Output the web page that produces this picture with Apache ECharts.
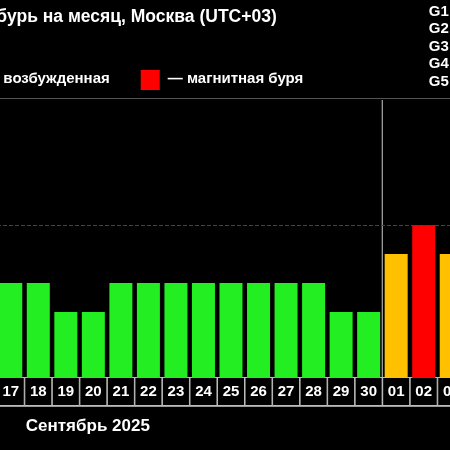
<!DOCTYPE html>
<html><head><meta charset="utf-8">
<script src="https://cdn.jsdelivr.net/npm/echarts@6/dist/echarts.min.js"></script>
<style>html,body{margin:0;background:#000;overflow:hidden;width:450px;height:450px}#c{position:absolute;left:-2.75px;top:0;width:467.5px;height:450px}</style></head>
<body><div id="c"></div>
<script>
const days = ['17','18','19','20','21','22','23','24','25','26','27','28','29','30','01','02','03'];
const levels = [3,3,2,2,3,3,3,3,3,3,3,3,2,2,4,5,4];
const levelColors = {2:'#22ee22',3:'#22ee22',4:'#ffc000',5:'#ff0000'};
const gLabels = ['G1','G2','G3','G4','G5'];
const chart = echarts.init(document.getElementById('c'));
const F = 'Liberation Sans, Arial, sans-serif';
const dx = 2.75;
const base = 0.276;
chart.setOption({
  backgroundColor:'#000',
  animation:false,
  grid:{left:0,right:0,top:98,bottom:72,containLabel:false,outerBoundsMode:'none'},
  xAxis:{type:'category',data:days,
    axisLine:{show:false},axisTick:{show:false},
    axisLabel:{interval:0,margin:0,color:'#fff',fontFamily:F,fontWeight:'bold',fontSize:15,
      width:26,height:27,lineHeight:27,align:'center',verticalAlign:'top',
      borderColor:'#bbb',borderWidth:1,backgroundColor:'#000'}},
  yAxis:{type:'value',min:0,max:9.655,axisLabel:{show:false},axisLine:{show:false},axisTick:{show:false},
    splitLine:{show:false}},
  series:[
   {type:'bar',stack:'s',barWidth:23,silent:true,
    data:levels.map(v=>({value:base,itemStyle:{color:levelColors[v]}}))},
   {type:'bar',stack:'s',barWidth:23,
    data:levels.map(v=>({value:v,itemStyle:{color:levelColors[v]}})),
    markLine:{silent:true,symbol:'none',label:{show:false},
      data:[{yAxis:5+base,lineStyle:{color:'#444',type:'dashed',width:1}}]}
  }],
  graphic:[
    {type:'rect',shape:{x:0,y:98,width:470,height:1},style:{fill:'#555'}},
    {type:'rect',shape:{x:382+dx,y:100,width:1,height:306},style:{fill:'#ccc'}},
    {type:'rect',shape:{x:0,y:406,width:470,height:1},style:{fill:'#999'}},
    {type:'text',x:277+dx,y:8,style:{text:'Прогноз магнитных бурь на месяц, Москва (UTC+03)',fill:'#fff',font:'bold 17.5px '+F,textAlign:'right'}},
    {type:'text',x:110+dx,y:71,style:{text:'— возбужденная',fill:'#fff',font:'bold 15px '+F,textAlign:'right'}},
    {type:'rect',shape:{x:141+dx,y:70,width:19,height:20},style:{fill:'#ff0000'}},
    {type:'text',x:168+dx,y:71,style:{text:'— магнитная буря',fill:'#fff',font:'bold 15px '+F}},
    ...gLabels.map((g,i)=>({type:'text',x:429+dx,y:4+i*17.5,style:{text:g+' — ',fill:'#fff',font:'bold 15px '+F}})),
    {type:'text',x:26+dx,y:418,style:{text:'Сентябрь 2025',fill:'#fff',font:'bold 17px '+F}}
  ]
});
</script></body></html>
